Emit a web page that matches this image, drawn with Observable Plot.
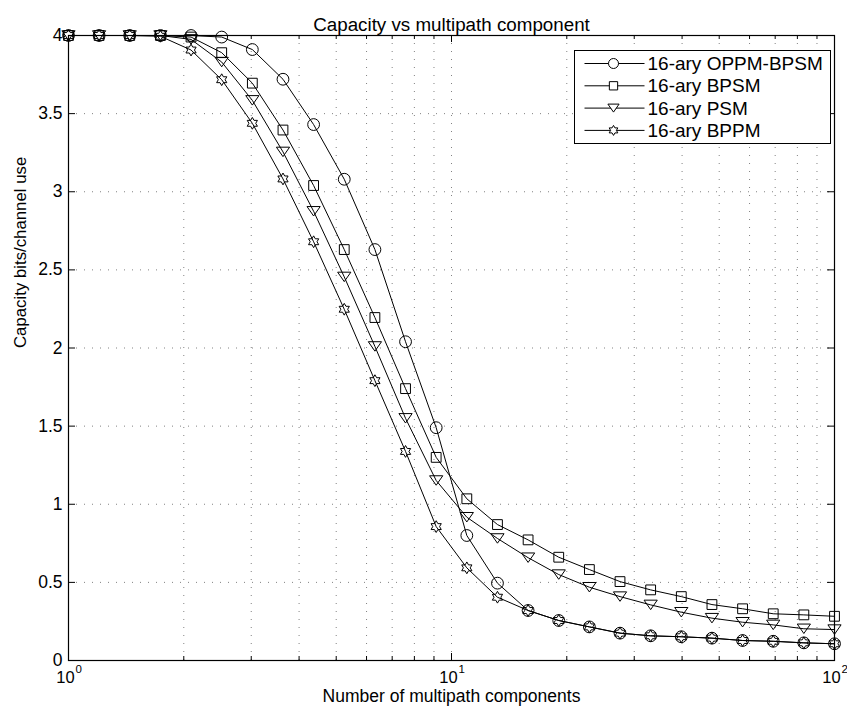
<!DOCTYPE html>
<html><head><meta charset="utf-8">
<script src="https://cdn.jsdelivr.net/npm/d3@7"></script>
<script src="https://cdn.jsdelivr.net/npm/@observablehq/plot@0.6"></script>
<style>
body{margin:0;background:#fff}
#chart svg{display:block}
</style>
</head><body><div id="chart"></div>
<script>
// ---- data ----
const xValues = [1, 1.202, 1.445, 1.738, 2.089, 2.512, 3.020, 3.631, 4.365, 5.248, 6.310, 7.586, 9.120,
  10.965, 13.183, 15.849, 19.055, 22.909, 27.542, 33.113, 39.811, 47.863, 57.544, 69.183, 83.176, 100];
const seriesNames = ["16-ary OPPM-BPSM", "16-ary BPSM", "16-ary PSM", "16-ary BPPM"];
const oppmBpsm = [4, 4, 4, 4, 4.0, 3.99, 3.91, 3.72, 3.43, 3.08, 2.63, 2.04, 1.49, 0.80, 0.495, 0.32,
  0.256, 0.215, 0.175, 0.158, 0.152, 0.143, 0.128, 0.123, 0.113, 0.107];
const bpsm = [4, 4, 4, 4, 3.99, 3.89, 3.695, 3.395, 3.04, 2.63, 2.195, 1.74, 1.30, 1.035, 0.87, 0.772,
  0.661, 0.582, 0.505, 0.452, 0.409, 0.358, 0.331, 0.299, 0.292, 0.283];
const psm = [4, 4, 4, 4, 3.975, 3.83, 3.585, 3.255, 2.875, 2.455, 2.01, 1.55, 1.152, 0.917, 0.781, 0.658,
  0.55, 0.469, 0.409, 0.356, 0.309, 0.271, 0.245, 0.228, 0.203, 0.198];
const bppm = [4, 4, 4, 3.995, 3.907, 3.717, 3.438, 3.082, 2.68, 2.248, 1.791, 1.338, 0.857, 0.593, 0.405, 0.32,
  0.256, 0.215, 0.175, 0.158, 0.152, 0.143, 0.128, 0.123, 0.113, 0.107];
const yTicks = [0, 0.5, 1, 1.5, 2, 2.5, 3, 3.5, 4];
const yTickLabels = ["0", "0.5", "1", "1.5", "2", "2.5", "3", "3.5", "4"];
const xMajor = [1, 10, 100];
const xMajorBase = ["10", "10", "10"];
const xMajorExp = ["0", "1", "2"];
const xMinor = [2, 3, 4, 5, 6, 7, 8, 9, 20, 30, 40, 50, 60, 70, 80, 90];
const titleText = "Capacity vs multipath component";
const xLabelText = "Number of multipath components";
const yLabelText = "Capacity bits/channel use";

// ---- layout ----
const W = 847, H = 715, mL = 68, mR = 13, mT = 35, mB = 55;
const FW = W - mL - mR, FH = H - mT - mB;
const FONT = "'Liberation Sans', Arial, Helvetica, sans-serif";

// ---- marker symbols (MATLAB o, s, v, h) ----
const rOf = size => Math.sqrt(size / Math.PI);
const symCircle = {draw(ctx, size) { const r = rOf(size); ctx.moveTo(r, 0); ctx.arc(0, 0, r, 0, 2 * Math.PI); ctx.closePath(); }};
const symSquare = {draw(ctx, size) { const h = rOf(size) * 0.83; ctx.moveTo(-h, -h); ctx.lineTo(h, -h); ctx.lineTo(h, h); ctx.lineTo(-h, h); ctx.closePath(); }};
const symTriDown = {draw(ctx, size) { const r = rOf(size); const w = r * 1.12, t = r * 0.8; ctx.moveTo(-w, -t); ctx.lineTo(w, -t); ctx.lineTo(0, t); ctx.closePath(); }};
const symHexagram = {draw(ctx, size) {
  const R = rOf(size) * 1.0, ri = R / Math.sqrt(3);
  for (let k = 0; k < 12; k++) {
    const a = -Math.PI / 2 + k * Math.PI / 6;
    const rr = k % 2 === 0 ? R : ri;
    const px = rr * Math.cos(a), py = rr * Math.sin(a);
    if (k === 0) ctx.moveTo(px, py); else ctx.lineTo(px, py);
  }
  ctx.closePath();
}};

const seriesList = [
  {name: seriesNames[0], values: oppmBpsm, symbol: symCircle, r: 5.9},
  {name: seriesNames[1], values: bpsm, symbol: symSquare, r: 5.9},
  {name: seriesNames[2], values: psm, symbol: symTriDown, r: 5.9},
  {name: seriesNames[3], values: bppm, symbol: symHexagram, r: 5.9}
];

const gridStyle = {stroke: "#444", strokeWidth: 0.9, strokeDasharray: "1,7", strokeOpacity: 0.75};

const marks = [
  Plot.ruleX(xMinor.concat([10]), {x: d => d, ...gridStyle}),
  Plot.ruleY(yTicks.slice(1, -1), {y: d => d, ...gridStyle}),
  // ticks (inside, all four sides)
  Plot.tickX(xMajor, {x: d => d, stroke: "black", insetTop: FH - 7}),
  Plot.tickX(xMajor, {x: d => d, stroke: "black", insetBottom: FH - 7}),
  Plot.tickX(xMinor, {x: d => d, stroke: "black", insetTop: FH - 4}),
  Plot.tickX(xMinor, {x: d => d, stroke: "black", insetBottom: FH - 4}),
  Plot.tickY(yTicks, {y: d => d, stroke: "black", insetRight: FW - 7}),
  Plot.tickY(yTicks, {y: d => d, stroke: "black", insetLeft: FW - 7}),
];

for (const s of seriesList) {
  const rows = xValues.map((x, i) => ({x, y: s.values[i]}));
  marks.push(Plot.line(rows, {x: "x", y: "y", stroke: "black", strokeWidth: 1}));
  marks.push(Plot.dot(rows, {x: "x", y: "y", symbol: s.symbol, r: s.r, stroke: "black", strokeWidth: 1, fill: "none"}));
}

marks.push(
  Plot.frame({stroke: "black", strokeWidth: 1.2}),
  // tick labels
  Plot.text(yTicks, {y: d => d, text: (d, i) => yTickLabels[i], frameAnchor: "left", textAnchor: "end", dx: -6, fontSize: 17.5}),
  Plot.text(xMajor, {x: d => d, text: (d, i) => xMajorBase[i], frameAnchor: "bottom", dy: 22.5, dx: -3, fontSize: 16.5}),
  Plot.text(xMajor, {x: d => d, text: (d, i) => xMajorExp[i], frameAnchor: "bottom", dy: 12.5, dx: 7, textAnchor: "start", fontSize: 11.5}),
  // labels & title
  Plot.text([xLabelText], {text: d => d, frameAnchor: "bottom", dy: 41.5, fontSize: 17.5}),
  Plot.text([yLabelText], {text: d => d, frameAnchor: "left", rotate: -90, dx: -48, fontSize: 16.8}),
  Plot.text([titleText], {text: d => d, frameAnchor: "top", dy: -18, fontSize: 18.8})
);

const chart = Plot.plot({
  width: W, height: H,
  marginLeft: mL, marginRight: mR, marginTop: mT, marginBottom: mB,
  style: {fontFamily: FONT, fontSize: "16px", color: "black", background: "white", overflow: "visible"},
  x: {type: "log", domain: [1, 100], axis: null},
  y: {domain: [0, 4], axis: null},
  marks
});
document.getElementById("chart").appendChild(chart);

// ---- legend (top right, inside the axes) ----
const svg = d3.select(chart);
const lg = svg.append("g").attr("class", "legend");
const lx = 574.5, ly = 50.5, lw = 256, lh = 93;
lg.append("rect").attr("x", lx).attr("y", ly).attr("width", lw).attr("height", lh)
  .attr("fill", "white").attr("stroke", "black").attr("stroke-width", 1);
seriesList.forEach((s, i) => {
  const yy = ly + 13 + i * 22.3;
  lg.append("line").attr("x1", lx + 10).attr("x2", lx + 70).attr("y1", yy).attr("y2", yy)
    .attr("stroke", "black").attr("stroke-width", 1);
  const p = d3.path();
  s.symbol.draw(p, Math.PI * 5 * 5);
  lg.append("path").attr("d", p.toString()).attr("transform", `translate(${lx + 39},${yy})`)
    .attr("fill", "white").attr("stroke", "black").attr("stroke-width", 1);
  lg.append("text").attr("x", lx + 73).attr("y", yy).attr("dy", "0.35em")
    .attr("text-anchor", "start")
    .attr("font-family", FONT).attr("font-size", 19).attr("fill", "black").text(s.name);
});
</script>
</body></html>
